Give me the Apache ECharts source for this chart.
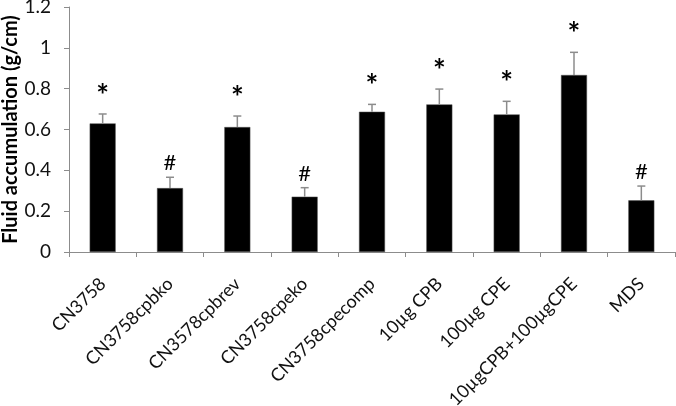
<!DOCTYPE html>
<html>
<head>
<meta charset="utf-8">
<title>Fluid accumulation</title>
<script src="https://cdn.jsdelivr.net/npm/echarts@6/dist/echarts.min.js"></script>
<style>
  html, body { margin: 0; padding: 0; background: #fff; }
</style>
</head>
<body>
<div id="chart" style="width:676px;height:406px;"></div>
<script type="text/javascript">
// groups on the x axis
var categories = ['CN3758', 'CN3758cpbko', 'CN3578cpbrev', 'CN3758cpeko', 'CN3758cpecomp',
                  '10\u00b5g CPB', '100\u00b5g CPE', '10\u00b5gCPB+100\u00b5gCPE', 'MDS'];
// mean fluid accumulation (g/cm)
var means = [0.63, 0.313, 0.612, 0.271, 0.687, 0.723, 0.674, 0.867, 0.253];
// upper error bar length
var errors = [0.046, 0.053, 0.054, 0.044, 0.036, 0.075, 0.064, 0.111, 0.07];
// significance marks above each bar
var marks = ['*', '#', '*', '#', '*', '*', '*', '*', '#'];
var yTicks = [0, 0.2, 0.4, 0.6, 0.8, 1, 1.2];

var font = 'Lato, "Open Sans", sans-serif';
var grey = '#8c8c8c';

var errData = [];
for (var i = 0; i < categories.length; i++) {
    errData.push([i, means[i], errors[i]]);
}

var myChart = echarts.init(document.getElementById('chart'));

var option = {
    animation: false,
    grid: { left: 69, right: 1, top: 7, bottom: 154, containLabel: false, outerBoundsMode: 'none' },
    xAxis: {
        type: 'category',
        data: categories,
        axisLine: { lineStyle: { color: grey, width: 1 } },
        axisTick: { show: true, length: 5, lineStyle: { color: grey } },
        axisLabel: {
            rotate: 45, margin: 29, interval: 0,
            fontFamily: font, fontSize: 18, color: '#111'
        }
    },
    yAxis: {
        type: 'value',
        min: 0, max: yTicks[yTicks.length - 1], interval: 0.2,
        name: 'Fluid accumulation (g/cm)',
        nameLocation: 'middle',
        nameGap: 48,
        nameMoveOverlap: false,
        nameTextStyle: { fontFamily: font, fontSize: 20, fontWeight: 'bold', color: '#000' },
        axisLine: { show: true, lineStyle: { color: grey, width: 1 } },
        axisTick: { show: true, length: 5, lineStyle: { color: grey } },
        splitLine: { show: false },
        axisLabel: { margin: 18, fontFamily: font, fontSize: 19, color: '#111' }
    },
    series: [
        {
            type: 'bar',
            data: means,
            barWidth: 26,
            itemStyle: { color: '#000', borderColor: '#555', borderWidth: 0.5 }
        },
        {
            type: 'custom',
            data: errData,
            z: 3,
            renderItem: function (params, api) {
                var idx = api.value(0);
                var base = api.coord([idx, api.value(1)]);
                var top = api.coord([idx, api.value(1) + api.value(2)]);
                var m = marks[params.dataIndex];
                var star = m === '*';
                return {
                    type: 'group',
                    children: [
                        { type: 'line', shape: { x1: base[0], y1: base[1], x2: top[0], y2: top[1] },
                          style: { stroke: grey, lineWidth: 1.5 } },
                        { type: 'line', shape: { x1: top[0] - 4, y1: top[1], x2: top[0] + 4, y2: top[1] },
                          style: { stroke: grey, lineWidth: 1.5 } },
                        { type: 'text', x: top[0], y: top[1] - 3,
                          style: { text: m, fontFamily: font, fontSize: star ? 30 : 22,
                                   fontWeight: star ? 'bold' : 'normal',
                                   fill: '#000', align: 'center', verticalAlign: 'bottom' } }
                    ]
                };
            }
        }
    ]
};

myChart.setOption(option);
</script>
</body>
</html>
